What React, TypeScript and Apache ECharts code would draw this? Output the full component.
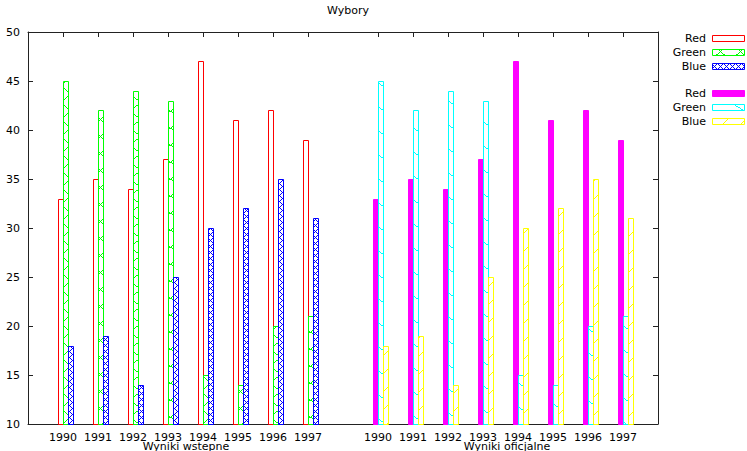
import React, { useEffect, useRef } from "react";
import * as echarts from "echarts";

// Election results, preliminary vs official, per year
const years = ["1990", "1991", "1992", "1993", "1994", "1995", "1996", "1997"];
const prelimRed = [33, 35, 34, 37, 47, 41, 42, 39];
const prelimGreen = [45, 42, 44, 43, 15, 14, 20, 21];
const prelimBlue = [18, 19, 14, 25, 30, 32, 35, 31];
const officialRed = [33, 35, 34, 37, 47, 41, 42, 39];
const officialGreen = [45, 42, 44, 43, 15, 14, 20, 21];
const officialBlue = [18, 19, 14, 25, 30, 32, 35, 31];
const seriesNames = ["Red", "Green", "Blue"];
const groupNames = ["Wyniki wstepne", "Wyniki oficjalne"];
const yTicks = [10, 15, 20, 25, 30, 35, 40, 45, 50];

const Y_MIN = yTicks[0];
const Y_MAX = yTicks[yTicks.length - 1];
const GROUP_STRIDE = years.length + 1;
const X_MIN = -1;
const X_MAX = GROUP_STRIDE * groupNames.length - 1;
const SLOT = 1 / 7; // three boxes plus a gap of four per cluster
const FONT = "DejaVu Sans";

const positionsOf = (g: number) => years.map((_, i) => g * GROUP_STRIDE + i);
const allPositions = [...positionsOf(0), ...positionsOf(1)];
const yearAt = (v: number) => {
  const i = allPositions.indexOf(Math.round(v));
  return i < 0 ? "" : years[i % years.length];
};

type Fill =
  | string
  | { image: HTMLCanvasElement; repeat: string; imageWidth: number; imageHeight: number }
  | null;

// Tileable hatch drawn pixel by pixel so the lines stay crisp.
// Each line is [x1, y1, x2, y2] spanning the whole tile.
function hatch(color: string, w: number, h: number, lines: number[][]): Fill {
  const c = document.createElement("canvas");
  c.width = w;
  c.height = h;
  const ctx = c.getContext("2d")!;
  ctx.fillStyle = color;
  for (const [x1, y1, x2, y2] of lines) {
    const steps = Math.max(Math.abs(x2 - x1), Math.abs(y2 - y1));
    for (let s = 0; s < steps; s++) {
      const px = Math.round(x1 + ((x2 - x1) * s) / steps);
      const py = Math.round(y1 + ((y2 - y1) * s) / steps);
      ctx.fillRect(((px % w) + w) % w, ((py % h) + h) % h, 1, 1);
    }
  }
  return { image: c, repeat: "repeat", imageWidth: w, imageHeight: h };
}

export default function App() {
  const ref = useRef<HTMLDivElement>(null);

  useEffect(() => {
    if (!ref.current) return;
    const chart = echarts.init(ref.current, null, { renderer: "svg" });

    const styles: { color: string; fill: Fill }[][] = [
      [
        { color: "#ff0000", fill: null },
        { color: "#00ff00", fill: hatch("#00ff00", 20, 17, [[0, 0, 20, 17], [20, 0, 0, 17]]) },
        { color: "#0000ff", fill: hatch("#0000ff", 6, 6, [[0, 0, 6, 6], [6, 0, 0, 6]]) },
      ],
      [
        { color: "#ff00ff", fill: "#ff00ff" },
        { color: "#00ffff", fill: hatch("#00ffff", 40, 24, [[0, 0, 40, 24]]) },
        { color: "#ffff00", fill: hatch("#ffff00", 18, 18, [[0, 18, 18, 0]]) },
      ],
    ];

    const groupValues = [
      [prelimRed, prelimGreen, prelimBlue],
      [officialRed, officialGreen, officialBlue],
    ];

    const series: any[] = [];
    groupValues.forEach((vals, g) => {
      const pos = positionsOf(g);
      vals.forEach((arr, k) => {
        const st = styles[g][k];
        series.push({
          type: "custom",
          name: seriesNames[k],
          xAxisIndex: 0,
          yAxisIndex: 0,
          data: arr.map((v, i) => [pos[i], v]),
          renderItem: (_p: any, api: any) => {
            const x = api.value(0);
            const v = api.value(1);
            const unit = api.size([1, 0])[0];
            const w = Math.round(unit * SLOT);
            const top = api.coord([x, v]);
            const base = api.coord([x, Y_MIN]);
            const left = Math.round(top[0]) + (k - 1) * w;
            return {
              type: "rect",
              shape: {
                x: left + 0.5,
                y: Math.round(top[1]) + 0.5,
                width: w,
                height: Math.round(base[1]) - Math.round(top[1]),
              },
              style: { fill: st.fill ?? "none", stroke: st.color, lineWidth: 1 },
            };
          },
        });
      });
    });

    // legend drawn as plain graphic elements, two blocks of three rows
    const legendRows = [38, 52, 66, 93, 107, 121];
    const legend: any[] = [];
    legendRows.forEach((cy, r) => {
      const g = Math.floor(r / 3);
      const k = r % 3;
      const st = styles[g][k];
      legend.push({
        type: "text",
        x: 706,
        y: cy,
        style: {
          text: seriesNames[k],
          font: `11px '${FONT}'`,
          fill: "#000",
          align: "right",
          verticalAlign: "middle",
          textAlign: "right",
          textVerticalAlign: "middle",
        },
      });
      legend.push({
        type: "rect",
        shape: { x: 712.5, y: cy - 3 + 0.5, width: 32, height: 6 },
        style: { fill: st.fill ?? "none", stroke: st.color, lineWidth: 1 },
      });
    });

    const groupLabelX = [186, 507];
    const groupLabels = groupNames.map((t, g) => ({
      type: "text",
      x: groupLabelX[g],
      y: 446,
      style: {
        text: t,
        font: `11px '${FONT}'`,
        fill: "#000",
        align: "center",
        verticalAlign: "middle",
        textAlign: "center",
        textVerticalAlign: "middle",
      },
    }));

    const axisLine = { show: true, onZero: false, lineStyle: { color: "#222", width: 1 } };
    const tick = { show: true, inside: true, length: 5, lineStyle: { color: "#222", width: 1 } };

    chart.setOption({
      animation: false,
      backgroundColor: "#fff",
      title: {
        text: "Wybory",
        left: 343,
        top: 0,
        textAlign: "center",
        textStyle: { fontFamily: FONT, fontSize: 11, fontWeight: "normal", color: "#000" },
      },
      grid: { left: 28, top: 32, width: 630, height: 392, containLabel: false },
      xAxis: [
        {
          type: "value",
          position: "bottom",
          min: X_MIN,
          max: X_MAX,
          interval: 1,
          axisLine,
          axisTick: { ...tick, customValues: allPositions },
          splitLine: { show: false },
          axisLabel: {
            customValues: allPositions,
            formatter: (v: number) => yearAt(v),
            fontFamily: FONT,
            fontSize: 11,
            color: "#000",
            margin: 8,
          },
        },
        {
          type: "value",
          position: "top",
          min: X_MIN,
          max: X_MAX,
          interval: 1,
          axisLine,
          axisTick: { ...tick, customValues: allPositions },
          splitLine: { show: false },
          axisLabel: { show: false },
        },
      ],
      yAxis: [
        {
          type: "value",
          position: "left",
          min: Y_MIN,
          max: Y_MAX,
          interval: 5,
          axisLine,
          axisTick: tick,
          splitLine: { show: false },
          axisLabel: { fontFamily: FONT, fontSize: 11, color: "#000", margin: 8 },
        },
        {
          type: "value",
          position: "right",
          min: Y_MIN,
          max: Y_MAX,
          interval: 5,
          axisLine,
          axisTick: tick,
          splitLine: { show: false },
          axisLabel: { show: false },
        },
      ],
      series,
      graphic: [...legend, ...groupLabels],
    });

    return () => chart.dispose();
  }, []);

  return (
    <div
      ref={ref}
      style={{ position: "fixed", left: 0, top: 0, width: 747, height: 451, background: "#fff" }}
    />
  );
}
